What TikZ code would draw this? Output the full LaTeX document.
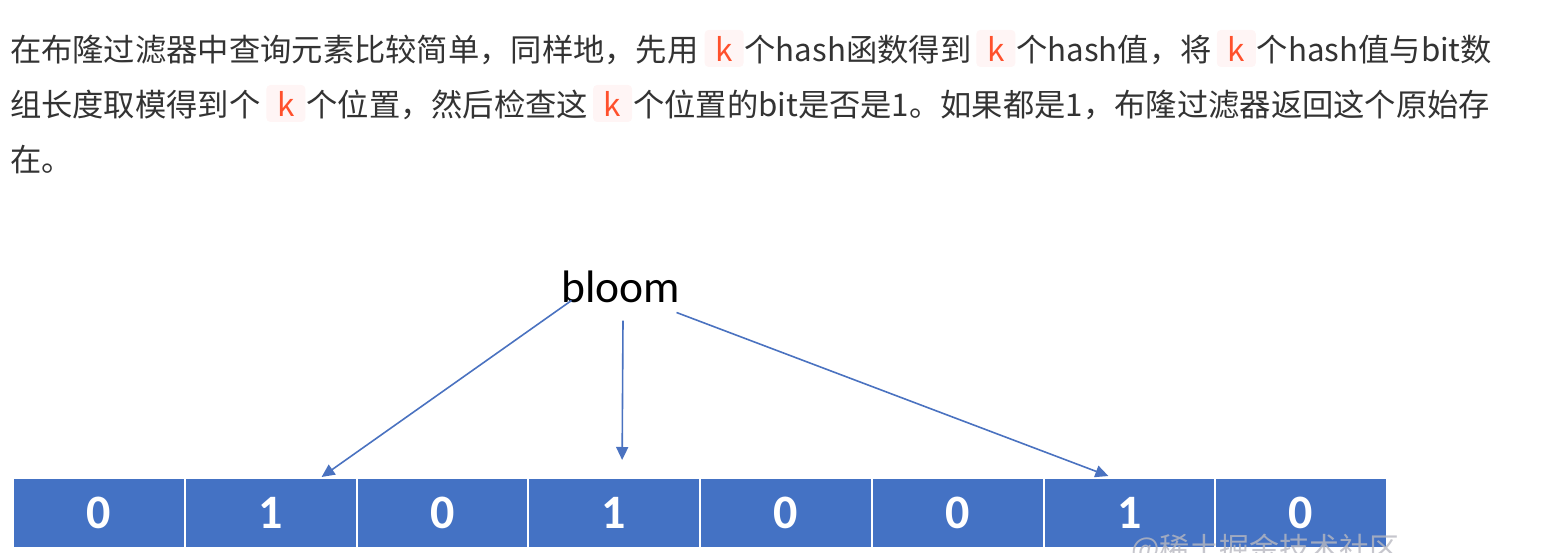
\documentclass[tikz,border=0pt]{standalone}
\usepackage{fontspec}
\usetikzlibrary{positioning}
\usetikzlibrary{arrows.meta}
\newfontfamily\cjk{Noto Sans CJK SC}
\newfontfamily\calib{Carlito}
\definecolor{textgray}{HTML}{333333}
\definecolor{codered}{HTML}{FF502C}
\definecolor{codebg}{HTML}{FFF5F5}
\definecolor{bitblue}{HTML}{4472C4}
\definecolor{arrowblue}{HTML}{4A72C0}
\definecolor{markgray}{HTML}{B8B8C0}

\begin{document}
\begin{tikzpicture}[
    x=1pt, y=-1pt,
    para/.style={inner sep=0pt, outer sep=0pt, text=textgray, font=\cjk\fontsize{31.3}{31.3}\selectfont},
    codebox/.style={rectangle, rounded corners=4pt, fill=codebg, text=codered, inner sep=0pt, outer sep=0pt, minimum width=39pt, minimum height=37pt, font=\cjk\fontsize{31.5}{31.5}\selectfont},
    bitcell/.style={rectangle, fill=bitblue, draw=white, line width=2pt, minimum width=171.75pt, minimum height=70pt, inner sep=0pt, text=white, font=\calib\bfseries\fontsize{48}{48}\selectfont},
    hasharrow/.style={draw=arrowblue, line width=1.6pt, -{Triangle[length=13pt,width=12pt]}},
]
\useasboundingbox (0,0) rectangle (1548,552);

% paragraph, line 1
\node[para, anchor=base west] (lineA) at (10,61) {在布隆过滤器中查询元素比较简单，同样地，先用};
\node[codebox, right=6pt of lineA.base east, anchor=base west] (kA) {k};
\node[para, right=1pt of kA.base east, anchor=base west] (lineB) {个hash函数得到};
\node[codebox, right=5pt of lineB.base east, anchor=base west] (kB) {k};
\node[para, right=1pt of kB.base east, anchor=base west] (lineC) {个hash值，将};
\node[codebox, right=5pt of lineC.base east, anchor=base west] (kC) {k};
\node[para, right=1pt of kC.base east, anchor=base west] (lineD) {个hash值与bit数};
% line 2
\node[para, anchor=base west] (lineE) at (10,116) {组长度取模得到个};
\node[codebox, right=6pt of lineE.base east, anchor=base west] (kD) {k};
\node[para, right=1pt of kD.base east, anchor=base west] (lineF) {个位置，然后检查这};
\node[codebox, right=5pt of lineF.base east, anchor=base west] (kE) {k};
\node[para, right=1pt of kE.base east, anchor=base west] (lineG) {个位置的bit是否是1。如果都是1，布隆过滤器返回这个原始存};
% line 3
\node[para, anchor=base west] (lineH) at (10,171) {在。};

% bit array
\foreach \b [count=\i from 0] in {0,1,0,1,0,0,1,0}
    \node[bitcell] (cell\i) at ({13+171.75*(\i+0.5)}, 513) {\b};

% element and its hash positions
\node[inner sep=0pt, font=\calib\fontsize{45.5}{45.5}\selectfont, anchor=base] (bloom) at (621,302) {bloom};
\coordinate (hitA) at ([xshift=51pt]cell1.north);
\coordinate (hitB) at ([xshift=8pt,yshift=17pt]cell3.north);
\coordinate (hitC) at ([xshift=-21pt,yshift=1pt]cell6.north);
\draw[hasharrow] ([xshift=10pt,yshift=2pt]bloom.south west) -- (hitA);
\draw[hasharrow] ([xshift=2pt,yshift=-18pt]bloom.south) -- (hitB);
\draw[hasharrow] ([xshift=-4pt,yshift=-10pt]bloom.south east) -- (hitC);

% watermark
\node[text=markgray, opacity=0.8, font=\cjk\fontsize{30}{30}\selectfont, anchor=base west] (mark) at (1128,559) {@稀土掘金技术社区};
\end{tikzpicture}
\end{document}
